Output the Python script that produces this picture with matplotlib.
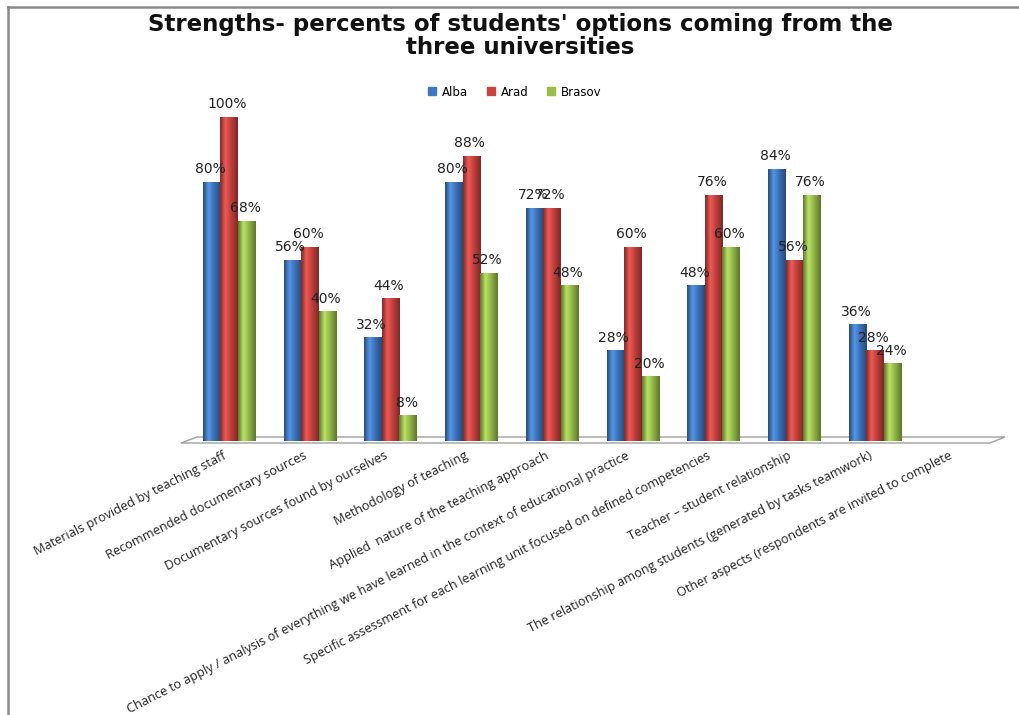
import numpy as np
import matplotlib
matplotlib.use("Agg")
import matplotlib.pyplot as plt
from matplotlib.colors import LinearSegmentedColormap, to_rgb
from matplotlib.patches import Polygon
from matplotlib.lines import Line2D
from matplotlib.transforms import ScaledTranslation

categories = [
    "Materials provided by teaching staff",
    "Recommended documentary sources",
    "Documentary sources found by ourselves",
    "Methodology of teaching",
    "Applied  nature of the teaching approach",
    "Chance to apply / analysis of everything we have learned in the context of educational practice",
    "Specific assessment for each learning unit focused on defined competencies",
    "Teacher \u2013 student relationship",
    "The relationship among students (generated by tasks teamwork)",
    "Other aspects (respondents are invited to complete",
]
series_names = ["Alba", "Arad", "Brasov"]
alba = [80, 56, 32, 80, 72, 28, 48, 84, 36, np.nan]
arad = [100, 60, 44, 88, 72, 60, 76, 56, 28, np.nan]
brasov = [68, 40, 8, 52, 48, 20, 60, 76, 24, np.nan]
series = [alba, arad, brasov]
colors = ["#3F78C1", "#C9433F", "#98BE4C"]
title_lines = ["Strengths- percents of students' options coming from the",
               "three universities"]

W, H = 1020, 715
fig = plt.figure(figsize=(W / 100, H / 100), dpi=100)

# axes geometry in pixels
ax_left_px, ax_right_px = 181, 990
base_px = 441
px_per_pct = 3.24
ymax = 110
ax_h_px = ymax * px_per_pct
ax = fig.add_axes([ax_left_px / W, (H - base_px) / H,
                   (ax_right_px - ax_left_px) / W, ax_h_px / H])
x = np.arange(len(categories))
xlim = (-0.594, 9.424)

bw = 0.213
offs = [-0.217, 0.0, 0.217]

def shade_cmap(c):
    r = np.array(to_rgb(c))
    dark = r * 0.62
    light = np.minimum(r * 1.12 + 0.06, 1)
    return LinearSegmentedColormap.from_list(
        "s", [(0, dark), (0.3, light), (0.55, r), (1.0, dark)])

for vals, off, col in zip(series, offs, colors):
    bars = ax.bar(x + off, vals, width=bw, color=col, zorder=3,
                  edgecolor="none")
    cm = shade_cmap(col)
    grad = np.linspace(0, 1, 64).reshape(1, -1)
    for rect, v in zip(bars, vals):
        if np.isnan(v):
            continue
        bx, bwid, bh = rect.get_x(), rect.get_width(), rect.get_height()
        im = ax.imshow(grad, extent=[bx, bx + bwid, 0, bh], cmap=cm,
                       aspect="auto", zorder=4, interpolation="bicubic")
        im.set_clip_path(rect)
        ax.annotate(f"{v:.0f}%", (bx + bwid / 2, bh), xytext=(-1, 4),
                    textcoords="offset points", ha="center", va="bottom",
                    fontsize=10, color="#222222", zorder=6,
                    family="DejaVu Sans")

ax.set_xlim(*xlim)
ax.set_ylim(0, ymax)
ax.set_yticks([])
ax.set_xticks(x)
ax.set_xticklabels(categories, rotation=27, ha="right", va="top",
                   rotation_mode="anchor", fontsize=9.2, family="Open Sans",
                   color="#222222")
ax.tick_params(axis="x", length=0, pad=6)
shift = ScaledTranslation(-7 / 100, 0, fig.dpi_scale_trans)
for lab in ax.get_xticklabels():
    lab.set_transform(lab.get_transform() + shift)
for s in ax.spines.values():
    s.set_visible(False)
ax.patch.set_visible(False)

# floor plate (decoration)
def px2ax(px, py):
    return ((px - ax_left_px) / (ax_right_px - ax_left_px),
            (base_px - py) / ax_h_px)
floor_pts = [px2ax(181, 443), px2ax(990, 443), px2ax(1005, 437), px2ax(197, 437)]
ax.add_patch(Polygon(floor_pts, closed=True, transform=ax.transAxes,
                     facecolor="white", edgecolor="#A0A0A0", lw=1.0,
                     clip_on=False, zorder=1))

# title
for line, ypx in zip(title_lines, [25, 47]):
    fig.text(520 / W, 1 - ypx / H, line, ha="center", va="center",
             fontsize=16.5, fontweight="bold", family="DejaVu Sans",
             color="#111111")

# legend
handles = [plt.Rectangle((0, 0), 1, 1, color=c) for c in colors]
fig.legend(handles, series_names, loc="center", ncol=3,
           bbox_to_anchor=(515 / W, 1 - 92 / H), frameon=False,
           handlelength=0.65, handleheight=0.65,
           handletextpad=0.5, columnspacing=1.6,
           prop={"family": "DejaVu Sans", "size": 8.5})

# outer frame (top and left)
fig.add_artist(Line2D([8 / W, 1.0], [1 - 7 / H, 1 - 7 / H],
                      transform=fig.transFigure, color="#8A8A8A", lw=1.8))
fig.add_artist(Line2D([8 / W, 8 / W], [0, 1 - 7 / H],
                      transform=fig.transFigure, color="#8A8A8A", lw=1.8))

fig.savefig("out.png", dpi=100, facecolor="white")
